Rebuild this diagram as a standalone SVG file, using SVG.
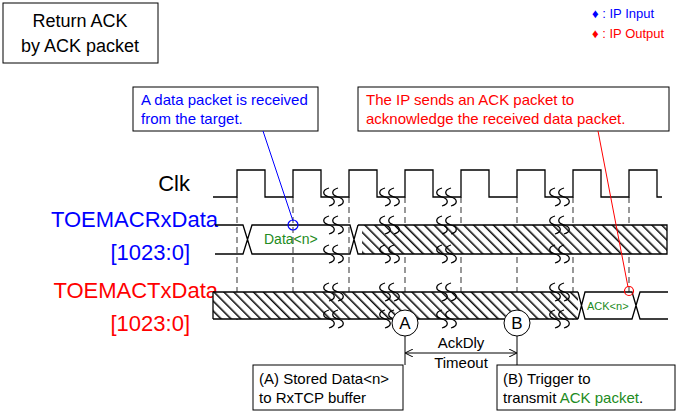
<svg xmlns="http://www.w3.org/2000/svg" width="688" height="414" viewBox="0 0 688 414">
<style>
text{font-family:"Liberation Sans",Arial,sans-serif}
.w{fill:none;stroke:#000;stroke-width:1.3}
.d{fill:none;stroke:#555;stroke-width:1.2;stroke-dasharray:6,4}
.b{fill:#fff;stroke:#000;stroke-width:1}
.h{fill:url(#hatch);stroke:none}
.s{fill:none;stroke:#000;stroke-width:1.3}
</style>
<defs>
<pattern id="hatch" patternUnits="userSpaceOnUse" width="7" height="7" patternTransform="rotate(-45)">
<rect width="7" height="7" fill="#fff"/>
<line x1="0.8" y1="0" x2="0.8" y2="7" stroke="#000" stroke-width="1.5"/>
</pattern>
<g id="sq"><path class="s" d="M-3,-9 C-10,-7 -10,-2 -3,0 C4,2 4,7 -3,9 M6,-9 C-1,-7 -1,-2 6,0 C13,2 13,7 6,9"/></g>
<marker id="ar" markerWidth="8" markerHeight="8" refX="7" refY="4" orient="auto-start-reverse" markerUnits="userSpaceOnUse"><path d="M0,0 L8,4 L0,8" fill="none" stroke="#000"/></marker>
</defs>
<g id="title"><rect class="b" x="3" y="3" width="155" height="60"/>
<text x="80" y="27" font-size="18" text-anchor="middle">Return ACK</text>
<text x="80" y="52" font-size="18" text-anchor="middle">by ACK packet</text></g>
<g id="legend" font-size="13">
<text x="592" y="18" fill="#00f">♦ : IP Input</text>
<text x="592" y="38" fill="#f00">♦ : IP Output</text></g>
<g id="note-rx"><rect class="b" x="133" y="87" width="185" height="44" stroke="#00f"/>
<text x="141" y="105" font-size="15" fill="#00f">A data packet is received</text>
<text x="141" y="124" font-size="15" fill="#00f">from the target.</text></g>
<g id="note-tx"><rect class="b" x="358" y="87" width="311" height="44" stroke="#f00"/>
<text x="366" y="105" font-size="15" fill="#f00">The IP sends an ACK packet to</text>
<text x="366" y="124" font-size="15" fill="#f00">acknowledge the received data packet.</text></g>
<g id="labels" text-anchor="end" font-size="22">
<text x="190" y="191">Clk</text>
<text x="218" y="227" fill="#00f">TOEMACRxData</text>
<text x="190" y="260" fill="#00f">[1023:0]</text>
<text x="218" y="298" fill="#f00">TOEMACTxData</text>
<text x="190" y="331" fill="#f00">[1023:0]</text></g>
<g id="dashes">
<path class="d" d="M237,197V320M293,197V320M349,197V320M405,197V310M461,197V320M517,197V310M573,197V320M629,197V292"/></g>
<g id="clk"><path class="w" d="M213,197H237V170H265V197H293V170H321V197H349V170H377V197H405V170H433V197H461V170H489V197H517V170H545V197H573V170H601V197H629V170H657V197H662"/></g>
<g id="rx">
<rect class="h" x="362" y="225" width="305" height="29"/>
<path class="w" d="M362,225H667V254H362" stroke-width="1.8"/>
<path class="w" d="M215,225H243L252,254H350L358,225M215,254H243L252,225H350L358,254L362,254M358,225H362"/>
<text x="264" y="244" font-size="14" fill="#228b22">Data&lt;n&gt;</text></g>
<g id="tx">
<rect class="h" x="213" y="292" width="365" height="27"/>
<path class="w" d="M213,292H578M213,319H578M213,292V319"/>
<path class="w" d="M578,292L585,319H632L640,292H668M578,319L585,292H632L640,319H668"/>
<text x="587" y="310" font-size="11" fill="#228b22">ACK&lt;n&gt;</text></g>
<g id="breaks">
<use href="#sq" x="332" y="197"/><use href="#sq" x="388" y="197"/><use href="#sq" x="445" y="197"/><use href="#sq" x="558" y="197"/>
<use href="#sq" x="332" y="225"/><use href="#sq" x="388" y="225"/><use href="#sq" x="445" y="225"/><use href="#sq" x="558" y="225"/>
<use href="#sq" x="332" y="254"/><use href="#sq" x="388" y="254"/><use href="#sq" x="445" y="254"/><use href="#sq" x="558" y="254"/>
<use href="#sq" x="332" y="292"/><use href="#sq" x="388" y="292"/><use href="#sq" x="445" y="292"/><use href="#sq" x="558" y="292"/>
<use href="#sq" x="332" y="319"/><use href="#sq" x="388" y="319"/><use href="#sq" x="445" y="319"/><use href="#sq" x="558" y="319"/></g>
<g id="connectors">
<line x1="263" y1="131" x2="293" y2="221" stroke="#00f" stroke-width="1"/>
<circle cx="293" cy="225" r="5" fill="none" stroke="#00f" stroke-width="1.2"/>
<line x1="598" y1="131" x2="628" y2="287" stroke="#f00" stroke-width="1"/>
<circle cx="629" cy="291" r="4.5" fill="none" stroke="#f00" stroke-width="1.2"/>
<path d="M405,336V365M517,336V365" stroke="#000" fill="none"/>
<line x1="406" y1="353" x2="516" y2="353" stroke="#000" marker-start="url(#ar)" marker-end="url(#ar)"/></g>
<g id="A"><circle class="b" cx="405" cy="323" r="13"/><text x="405" y="329" font-size="17" text-anchor="middle">A</text></g>
<g id="B"><circle class="b" cx="517" cy="323" r="13"/><text x="517" y="329" font-size="17" text-anchor="middle">B</text></g>
<g id="delay" font-size="15" text-anchor="middle"><text x="461" y="348">AckDly</text><text x="461" y="368">Timeout</text></g>
<g id="boxA"><rect class="b" x="253" y="365" width="150" height="45"/>
<text x="259" y="384" font-size="15">(A) Stored Data&lt;n&gt;</text><text x="259" y="403" font-size="15">to RxTCP buffer</text></g>
<g id="boxB"><rect class="b" x="497" y="365" width="178" height="45"/>
<text x="503" y="384" font-size="15">(B) Trigger to</text><text x="503" y="403" font-size="15">transmit <tspan fill="#228b22">ACK packet</tspan>.</text></g>
</svg>
